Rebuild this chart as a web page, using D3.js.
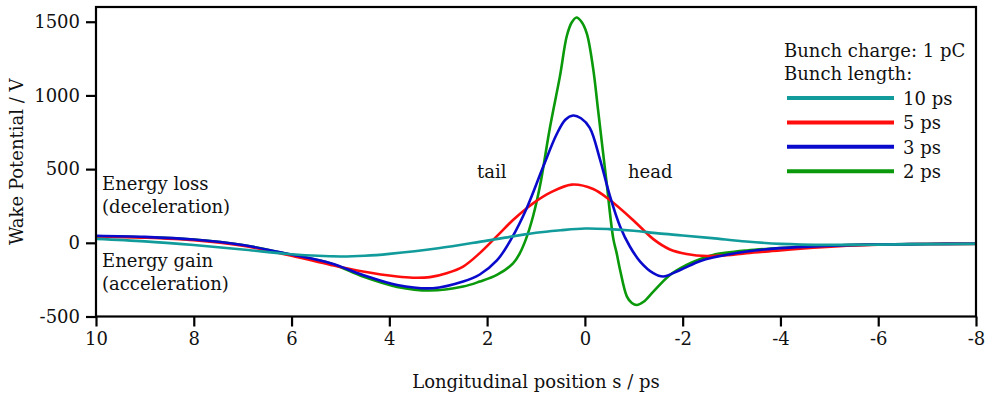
<!DOCTYPE html>
<html>
<head>
<meta charset="utf-8">
<script src="https://cdn.jsdelivr.net/npm/d3@7"></script>
<style>
  html, body { margin: 0; padding: 0; background: #fff; }
  svg text { font-family: "DejaVu Serif", serif; fill: #111; }
</style>
</head>
<body>
<div id="chart"></div>
<script>
// --- данные (s в пс, потенциал в В) ---
const xTicks = [10, 8, 6, 4, 2, 0, -2, -4, -6, -8];
const yTicks = [-500, 0, 500, 1000, 1500];

const s10 = [10, 9, 8, 7, 6, 5, 4.5, 4, 3, 2, 1, 0.5, 0, -0.5, -1, -1.5, -2, -2.6, -3.3, -4, -5, -6, -7, -8];
const v10 = [27, 10, -15, -45, -78, -93, -88, -75, -37, 15, 68, 85, 97, 93, 82, 64, 50, 32, 9, -7, -14, -12, -9, -7];

const s5 = [10, 9, 8, 7, 6, 5.2, 4.54, 3.84, 3.52, 3.17, 2.83, 2.49, 2.15, 1.8, 1.47, 1.19, 1.06, 0.71, 0.27, -0.17, -0.51, -1.0, -1.4, -1.74, -2.08, -2.5, -2.9, -3.31, -3.99, -4.67, -5.36, -6, -7, -8];
const v5 = [42, 35, 18, -20, -88, -150, -195, -229, -237, -233, -206, -161, -70, 45, 155, 235, 268, 340, 395, 365, 290, 150, 25, -45, -76, -90, -84, -70, -52, -34, -20, -12, -8, -7];

const s3 = [10, 9, 8, 7, 6, 5.2, 4.54, 3.84, 3.11, 2.49, 2.15, 1.8, 1.5, 1.19, 0.85, 0.58, 0.4, 0.24, 0.08, -0.1, -0.31, -0.51, -0.72, -0.92, -1.13, -1.4, -1.6, -1.95, -2.35, -2.62, -3.31, -3.99, -4.67, -5.36, -6, -7, -8];
const v3 = [48, 40, 22, -15, -80, -138, -218, -286, -308, -263, -215, -120, 30, 235, 519, 735, 835, 864, 845, 780, 565, 320, 111, -25, -127, -206, -229, -184, -125, -100, -59, -36, -25, -16, -12, -8, -6];

const s2 = [10, 9, 8, 7, 6, 5.2, 4.54, 3.84, 3.17, 2.49, 2.15, 1.8, 1.47, 1.33, 1.2, 1.06, 0.92, 0.71, 0.51, 0.37, 0.27, 0.17, 0.07, -0.04, -0.17, -0.27, -0.44, -0.58, -0.65, -0.72, -0.86, -0.96, -1.06, -1.2, -1.4, -1.74, -2.08, -2.35, -2.62, -3.31, -3.99, -4.67, -5.36, -6, -7, -8];
const v2 = [45, 38, 22, -15, -82, -140, -229, -299, -324, -297, -263, -218, -140, -70, 30, 180, 383, 791, 1131, 1403, 1495, 1529, 1500, 1420, 1180, 900, 420, 30, -70, -184, -365, -408, -422, -400, -331, -218, -150, -111, -82, -52, -36, -25, -16, -12, -8, -6];

const seriesNames = ["10 ps", "5 ps", "3 ps", "2 ps"];
const seriesColors = ["#129b9b", "#ff0d0d", "#0a0acc", "#0a990a"];
const seriesX = [s10, s5, s3, s2];
const seriesY = [v10, v5, v3, v2];
const drawOrder = [3, 1, 2, 0]; // зелёная снизу, бирюзовая сверху

const width = 989, height = 397;
const margin = { top: 7, right: 13, bottom: 80.5, left: 96 };

const svg = d3.select("#chart").append("svg")
    .attr("width", width).attr("height", height);

const x = d3.scaleLinear().domain([10, -8]).range([margin.left, width - margin.right]);
const y = d3.scaleLinear().domain([-500, 1600]).range([height - margin.bottom, margin.top]);

// --- оси ---
const xAxis = svg.append("g")
    .attr("transform", `translate(0,${height - margin.bottom})`)
    .call(d3.axisBottom(x).tickValues(xTicks).tickSize(10).tickSizeOuter(0).tickPadding(6).tickFormat(d => String(d)));
const yAxis = svg.append("g")
    .attr("transform", `translate(${margin.left},0)`)
    .call(d3.axisLeft(y).tickValues(yTicks).tickSize(10).tickSizeOuter(0).tickPadding(6).tickFormat(d => String(d)));

[xAxis, yAxis].forEach(ax => {
    ax.select(".domain").remove();
    ax.selectAll(".tick line").attr("stroke", "#000").attr("stroke-width", 2.2);
    ax.selectAll(".tick text").attr("font-size", 18).attr("font-family", "DejaVu Serif").attr("fill", "#111");
});

// --- кривые ---
const line = d3.line().x(d => x(d[0])).y(d => y(d[1])).curve(d3.curveCatmullRom.alpha(0.5));
const plot = svg.append("g");
drawOrder.forEach(i => {
    const pts = seriesX[i].map((s, j) => [s, seriesY[i][j]]);
    plot.append("path").datum(pts)
        .attr("fill", "none").attr("stroke", seriesColors[i])
        .attr("stroke-width", 2.6).attr("stroke-linejoin", "round")
        .attr("d", line);
});

// рамка
svg.append("rect")
    .attr("x", margin.left).attr("y", margin.top)
    .attr("width", width - margin.left - margin.right)
    .attr("height", height - margin.top - margin.bottom)
    .attr("fill", "none").attr("stroke", "#000").attr("stroke-width", 2.2);

// --- подписи осей ---
svg.append("text")
    .attr("x", (margin.left + width - margin.right) / 2).attr("y", 388)
    .attr("text-anchor", "middle").attr("font-size", 18)
    .text("Longitudinal position s / ps");
svg.append("text")
    .attr("transform", `translate(23,${(margin.top + height - margin.bottom) / 2}) rotate(-90)`)
    .attr("text-anchor", "middle").attr("font-size", 18)
    .text("Wake Potential / V");

// --- аннотации ---
const notes = [
    { t: "Energy loss", x: 102, y: 190 },
    { t: "(deceleration)", x: 102, y: 213 },
    { t: "Energy gain", x: 102, y: 267 },
    { t: "(acceleration)", x: 102, y: 290 },
    { t: "tail", x: 477, y: 178 },
    { t: "head", x: 628, y: 178 }
];
svg.selectAll(".note").data(notes).join("text")
    .attr("class", "note").attr("x", d => d.x).attr("y", d => d.y)
    .attr("font-size", 18).text(d => d.t);

// --- легенда ---
const legend = svg.append("g").attr("transform", "translate(784,0)");
legend.append("text").attr("x", 0).attr("y", 57).attr("font-size", 18).text("Bunch charge: 1 pC");
legend.append("text").attr("x", 0).attr("y", 80).attr("font-size", 18).text("Bunch length:");
const items = legend.selectAll(".item").data(seriesNames).join("g")
    .attr("class", "item")
    .attr("transform", (d, i) => `translate(0,${98 + i * 24.4})`);
items.append("line").attr("x1", 3).attr("x2", 110).attr("y1", 0).attr("y2", 0)
    .attr("stroke", (d, i) => seriesColors[i]).attr("stroke-width", 4);
items.append("text").attr("x", 119).attr("y", 7).attr("font-size", 18).text(d => d);
</script>
</body>
</html>
